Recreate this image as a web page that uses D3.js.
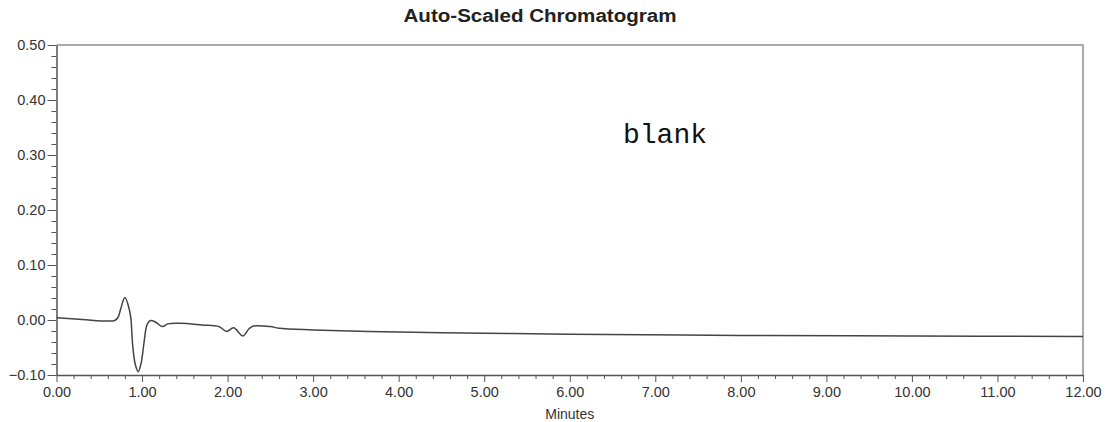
<!DOCTYPE html>
<html>
<head>
<meta charset="utf-8">
<style>
body { margin:0; background:#fff; }
svg { display:block; }
.axis text { font-family: "Liberation Sans", Arial, sans-serif; font-size:14.5px; fill:#333; }
.axis path, .axis line { stroke:#555; }
</style>
</head>
<body>
<svg id="svg"></svg>
<script src="https://cdnjs.cloudflare.com/ajax/libs/d3/7.8.5/d3.min.js"></script>
<script>
// retention time (minutes) and detector response (AU)
var times  = [0.00, 0.30, 0.60, 0.68, 0.72, 0.75, 0.80, 0.85, 0.87, 0.89, 0.92, 0.955, 0.99, 1.02, 1.06, 1.10, 1.16, 1.24, 1.30, 1.45, 1.70, 1.90, 1.99, 2.07, 2.18, 2.25, 2.30, 2.50, 2.60, 3.00, 4.00, 5.00, 6.00, 8.00, 10.00, 12.00]
var values = [0.004, 0.001, -0.002, -0.001, 0.005, 0.020, 0.041, 0.020, 0.002, -0.045, -0.080, -0.094, -0.078, -0.045, -0.008, -0.001, -0.004, -0.012, -0.007, -0.006, -0.009, -0.012, -0.021, -0.014, -0.029, -0.016, -0.011, -0.012, -0.015, -0.018, -0.022, -0.024, -0.026, -0.028, -0.029, -0.030]
var xTicks = [0,1,2,3,4,5,6,7,8,9,10,11,12]
var yTicks = [-0.10, 0.00, 0.10, 0.20, 0.30, 0.40, 0.50]

var W = 1107, H = 422
var mLeft = 56.5, mRight = 1083, mTop = 45, mBottom = 375

var svg = d3.select("#svg").attr("width", W).attr("height", H)

var x = d3.scaleLinear().domain([0, 12]).range([mLeft, mRight])
var y = d3.scaleLinear().domain([-0.10, 0.50]).range([mBottom, mTop])

// frame (top / right)
svg.append("path")
   .attr("d", "M" + mLeft + "," + mTop + "H" + mRight + "V" + mBottom)
   .attr("fill", "none").attr("stroke", "#aaa").attr("stroke-width", 2)

// minor ticks
var xMinor = d3.range(0, 12.001, 0.2).filter(d => Math.abs(d - Math.round(d)) > 0.01)
var yMinor = d3.range(-0.10, 0.5001, 0.02).filter(d => Math.abs(d*10 - Math.round(d*10)) > 0.01)

svg.append("g").attr("class", "axis")
   .attr("transform", "translate(0," + mBottom + ")")
   .call(d3.axisBottom(x).tickValues(xMinor).tickSize(4).tickSizeOuter(0).tickFormat(""))
   .call(g => g.select(".domain").attr("stroke", "#999").attr("stroke-width", 1.5))
svg.append("g").attr("class", "axis")
   .attr("transform", "translate(0," + mBottom + ")")
   .call(d3.axisBottom(x).tickValues(xTicks).tickSize(7).tickSizeOuter(0).tickPadding(5).tickFormat(d3.format(".2f")))
   .call(g => g.select(".domain").remove())

svg.append("g").attr("class", "axis")
   .attr("transform", "translate(" + mLeft + ",0)")
   .call(d3.axisLeft(y).tickValues(yMinor).tickSize(5).tickSizeOuter(0).tickFormat(""))
   .call(g => g.select(".domain").attr("stroke", "#444").attr("stroke-width", 1.5))
svg.append("g").attr("class", "axis")
   .attr("transform", "translate(" + mLeft + ",0)")
   .call(d3.axisLeft(y).tickValues(yTicks).tickSize(9).tickSizeOuter(0).tickPadding(2).tickFormat(d3.format(".2f")))
   .call(g => g.select(".domain").remove())

// trace
var line = d3.line()
   .x((d, i) => x(times[i]))
   .y(d => y(d))
   .curve(d3.curveCatmullRom.alpha(0.5))

svg.append("path")
   .datum(values)
   .attr("d", line)
   .attr("fill", "none")
   .attr("stroke", "#444")
   .attr("stroke-width", 1.5)

// texts
svg.append("text")
   .attr("x", 540).attr("y", 22)
   .attr("text-anchor", "middle")
   .attr("font-family", "Liberation Sans, Arial, sans-serif")
   .attr("font-weight", "bold").attr("font-size", 18)
   .attr("fill", "#222")
   .attr("textLength", 273)
   .attr("lengthAdjust", "spacingAndGlyphs")
   .text("Auto-Scaled Chromatogram")

svg.append("text")
   .attr("x", (mLeft + mRight) / 2).attr("y", 419)
   .attr("text-anchor", "middle")
   .attr("font-family", "Liberation Sans, Arial, sans-serif")
   .attr("font-size", 14).attr("fill", "#333")
   .text("Minutes")

svg.append("text")
   .attr("x", 623).attr("y", 143)
   .attr("font-family", "Liberation Mono, Courier New, monospace")
   .attr("font-size", 28).attr("fill", "#111")
   .text("blank")
</script>
</body>
</html>
